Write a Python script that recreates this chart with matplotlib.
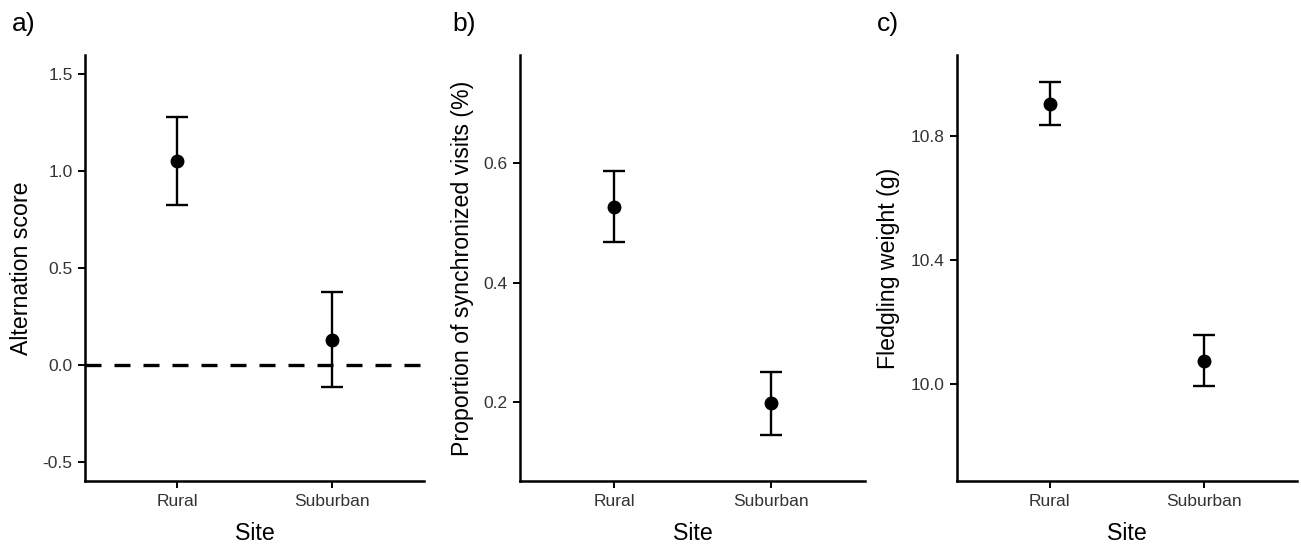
import matplotlib.pyplot as plt

plt.rcParams['font.family'] = ['Liberation Sans', 'DejaVu Sans']

sites = ['Rural', 'Suburban']

# a) alternation score
alt_mean = [1.050, 0.131]
alt_lo = [0.826, -0.111]
alt_hi = [1.277, 0.374]

# b) proportion of synchronized visits
sync_mean = [0.527, 0.198]
sync_lo = [0.468, 0.145]
sync_hi = [0.588, 0.251]

# c) fledgling weight
wt_mean = [10.903, 10.075]
wt_lo = [10.835, 9.994]
wt_hi = [10.975, 10.157]

W, H = 1301, 545
fig = plt.figure(figsize=(W / 100, H / 100), dpi=100)


def px_axes(x0, x1, y0, y1):
    return fig.add_axes([x0 / W, 1 - y1 / H, (x1 - x0) / W, (y1 - y0) / H])


panels = [
    dict(box=(85, 424, 55, 481), mean=alt_mean, lo=alt_lo, hi=alt_hi,
         ylim=(-0.598, 1.598), ticks=[-0.5, 0.0, 0.5, 1.0, 1.5],
         ylabel='Alternation score', tag='a)', tagx=12, ylabx=22),
    dict(box=(520, 865, 55, 481), mean=sync_mean, lo=sync_lo, hi=sync_hi,
         ylim=(0.0675, 0.7817), ticks=[0.2, 0.4, 0.6],
         ylabel='Proportion of synchronized visits (%)', tag='b)', tagx=452, ylabx=463),
    dict(box=(957, 1297, 55, 481), mean=wt_mean, lo=wt_lo, hi=wt_hi,
         ylim=(9.688, 11.061), ticks=[10.0, 10.4, 10.8],
         ylabel='Fledgling weight (g)', tag='c)', tagx=877, ylabx=888),
]

for i, p in enumerate(panels):
    ax = px_axes(*p['box'])
    x = [1, 2]
    if i == 0:
        ax.axhline(0, color='black', lw=2.4, ls=(0, (4.8, 3.9)), zorder=1)
    yerr = [[m - l for m, l in zip(p['mean'], p['lo'])],
            [h - m for m, h in zip(p['mean'], p['hi'])]]
    ax.errorbar(x, p['mean'], yerr=yerr, fmt='o', color='black', ms=9,
                elinewidth=1.7, capsize=8.2, capthick=1.7, zorder=3)
    ax.set_xlim(0.4, 2.6)
    ax.set_ylim(*p['ylim'])
    ax.set_xticks(x)
    ax.set_xticklabels(sites)
    ax.set_yticks(p['ticks'])
    ax.set_yticklabels(['{:.1f}'.format(t) for t in p['ticks']])
    for s in ['top', 'right']:
        ax.spines[s].set_visible(False)
    for s in ['left', 'bottom']:
        ax.spines[s].set_linewidth(1.8)
    ax.tick_params(axis='both', length=5, width=1.4, labelsize=12.5,
                   labelcolor='#333333', pad=4)
    fig.text((p['box'][0] + p['box'][1]) / 2 / W, 1 - 533 / H, 'Site',
             ha='center', va='center', fontsize=16.7)
    fig.text(p['ylabx'] / W, 1 - ((p['box'][2] + p['box'][3]) / 2) / H, p['ylabel'],
             rotation=90, ha='center', va='center', fontsize=16.7)
    fig.text(p['tagx'] / W, 1 - 24 / H, p['tag'], fontsize=19, ha='left', va='center')

fig.savefig('out.png', dpi=100)
